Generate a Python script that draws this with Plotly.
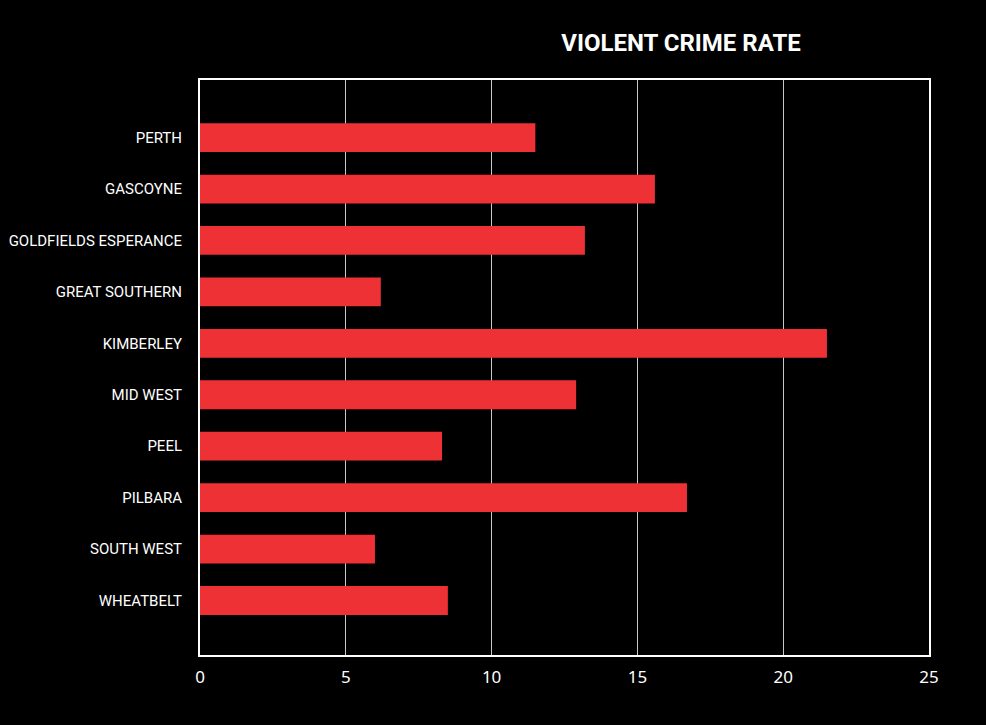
import plotly.graph_objects as go

regions = ["PERTH", "GASCOYNE", "GOLDFIELDS ESPERANCE", "GREAT SOUTHERN", "KIMBERLEY",
           "MID WEST", "PEEL", "PILBARA", "SOUTH WEST", "WHEATBELT"]
rates = [11.5, 15.6, 13.2, 6.2, 21.5, 12.9, 8.3, 16.7, 6.0, 8.5]
x_ticks = [0, 5, 10, 15, 20, 25]

fig = go.Figure(go.Bar(
    x=rates, y=regions, orientation="h",
    marker=dict(color="#EE3135", line=dict(width=0)),
    width=0.56,
))

fig.update_layout(
    width=986, height=725,
    paper_bgcolor="black", plot_bgcolor="black",
    margin=dict(l=200, r=57, t=80, b=70, autoexpand=False),
    showlegend=False,
    title=dict(text="<b>VIOLENT CRIME RATE</b>", x=681 / 986, xref="container", xanchor="center",
               y=1 - 43 / 725, yref="container", yanchor="middle",
               font=dict(family="Roboto, sans-serif", size=24, color="white")),
    xaxis=dict(range=[0, 25], tickvals=x_ticks, showgrid=True, gridcolor="#c8c8c8", gridwidth=1,
               showline=True, linecolor="white", linewidth=2, mirror=True, zeroline=False,
               ticks="", ticklabelstandoff=6, automargin=False,
               tickfont=dict(family="Noto Sans, Open Sans, sans-serif", size=17, color="white")),
    yaxis=dict(type="category", categoryorder="array", categoryarray=regions,
               range=[10.06, -1.12], showgrid=False, showline=True, linecolor="white",
               linewidth=2, mirror=True, zeroline=False, ticks="", ticklabelstandoff=13,
               automargin=False,
               tickfont=dict(family="Roboto, sans-serif", size=15, color="white")),
)

fig.write_html("out.html")
